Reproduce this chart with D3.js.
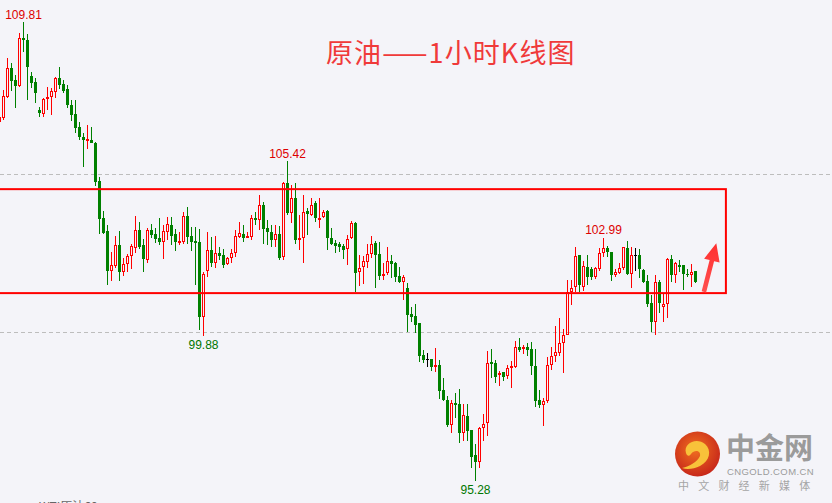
<!DOCTYPE html>
<html><head><meta charset="utf-8">
<script src="https://cdn.jsdelivr.net/npm/d3@7/dist/d3.min.js"></script>
<style>
html,body{margin:0;padding:0;background:#f4f4f9;overflow:hidden}
svg{display:block}
</style></head>
<body><svg id="c" width="832" height="503"></svg>
<script>
// ---- data (1-hour bars, WTI crude) ----
const open = [
106.66,
106.79,107.45,108.35,107.98,107.80,109.30,109.25,108.11,107.92,107.03,
106.91,107.37,107.44,107.61,108.05,107.85,107.69,107.19,106.91,106.50,
106.19,106.07,106.08,105.99,104.79,103.61,103.20,101.95,102.10,102.76,
101.92,102.15,102.43,102.68,103.23,102.76,102.29,103.23,103.11,102.99,
102.86,103.18,103.39,103.11,102.83,102.86,103.68,103.05,102.89,102.87,
100.49,101.95,102.60,102.18,102.50,102.45,102.16,102.34,102.52,103.02,
103.11,102.99,103.02,103.61,103.55,104.03,103.29,103.18,102.92,103.10,
102.39,104.71,103.76,104.24,102.91,102.97,103.84,103.71,104.08,103.57,
103.64,103.84,103.00,102.83,102.79,102.74,102.63,102.97,103.47,101.92,
102.06,102.23,102.47,102.83,102.48,101.78,101.87,102.26,102.18,101.77,
101.60,101.39,100.58,100.52,100.30,99.28,99.14,99.14,98.89,98.97,
98.17,97.86,97.06,97.77,97.73,96.82,97.35,96.91,96.12,95.90,
96.96,97.12,99.06,99.02,98.65,98.74,98.62,98.86,98.89,99.52,
99.46,99.52,99.46,98.93,97.86,97.70,97.82,98.96,99.25,99.35,
99.65,99.93,101.28,101.44,102.44,101.44,102.08,101.99,101.74,101.99,
102.50,102.66,102.55,101.81,101.88,102.02,102.66,101.84,102.44,102.44,
101.97,101.62,100.94,100.33,101.60,100.79,100.89,102.31,101.81,102.13,
102.13,101.86,101.81,101.94];
const high = [
106.90,
107.67,108.67,108.51,108.14,109.46,109.81,109.43,108.25,108.04,107.12,
107.40,107.75,107.72,108.09,108.40,107.98,107.82,107.35,107.35,106.66,
106.32,106.56,106.50,106.03,104.92,103.85,103.41,102.55,103.05,103.20,
102.34,102.48,102.81,103.68,103.50,102.94,103.29,103.42,103.29,103.61,
103.40,103.64,103.64,103.26,103.18,103.81,103.97,103.34,103.32,103.26,
101.92,103.18,103.03,103.05,102.71,102.63,102.39,102.63,103.24,103.50,
103.39,103.18,103.71,103.81,104.34,104.13,103.55,103.39,103.39,103.36,
104.76,105.42,104.66,104.71,103.71,104.34,103.92,104.24,104.16,104.24,
103.87,103.87,103.29,102.92,102.87,102.81,103.08,103.52,103.50,102.44,
102.41,102.79,103.05,102.90,102.87,102.18,102.71,102.44,102.23,102.06,
101.81,101.57,100.81,100.89,100.30,99.44,99.33,99.17,99.49,99.13,
98.54,97.98,97.86,98.07,98.19,97.73,97.73,96.91,96.47,97.01,
97.43,99.41,99.46,99.13,98.78,98.74,98.96,99.10,99.72,99.81,
99.60,99.65,99.70,99.48,98.17,97.91,99.23,99.54,100.19,100.44,
100.12,101.65,101.65,102.71,102.44,102.26,102.44,102.07,102.07,102.66,
102.99,102.73,102.55,101.99,102.20,102.71,102.90,102.71,102.66,102.63,
101.99,101.81,101.18,101.81,101.65,101.23,102.34,102.44,102.23,102.28,
102.13,101.99,102.15,101.94];
const low = [
106.60,
106.72,107.40,107.64,107.10,107.77,108.88,107.35,107.74,107.26,106.80,
106.82,107.03,106.88,107.42,107.69,107.58,107.09,106.69,106.30,106.08,
105.22,105.81,105.98,104.64,103.10,103.10,101.49,101.63,102.02,101.63,
101.79,101.92,101.99,102.52,102.63,101.91,102.20,102.99,102.82,102.76,
102.31,102.92,102.76,102.57,102.76,102.78,102.81,102.58,101.49,100.07,
99.88,101.76,102.08,102.02,102.29,102.02,102.13,102.20,102.39,102.97,
102.87,102.97,102.92,103.39,103.24,102.81,102.76,102.71,102.71,102.29,
102.29,103.71,103.45,102.81,102.60,102.20,103.08,103.68,103.50,103.29,
103.61,102.60,102.76,102.52,102.55,102.31,102.13,102.94,101.26,101.46,
101.53,102.02,102.34,101.39,101.65,101.65,101.81,101.71,101.60,101.55,
101.02,100.02,100.33,99.99,99.07,99.02,98.91,98.78,98.74,97.88,
97.83,97.01,96.82,97.28,96.50,96.57,96.57,95.69,95.28,95.72,
96.57,96.72,98.54,98.40,98.30,98.47,98.51,98.23,98.86,99.38,
99.31,99.25,98.65,97.64,97.62,97.03,97.75,98.80,99.07,99.25,
98.70,99.91,100.86,101.28,101.28,101.31,101.49,101.65,101.68,101.95,
102.39,102.39,101.62,101.74,101.84,101.97,101.81,101.39,101.95,101.71,
101.55,100.79,100.02,99.90,100.60,100.33,100.44,101.60,101.57,101.92,
101.34,101.74,101.44,101.55];
const close = [
106.82,
107.49,108.35,107.96,107.80,109.30,109.25,108.40,107.90,107.58,106.93,
107.38,107.44,107.63,108.05,107.84,107.64,107.19,106.88,106.47,106.17,
106.07,106.11,105.99,104.76,103.59,103.15,101.95,102.13,102.76,101.92,
102.16,102.41,102.72,103.23,102.71,102.32,103.23,103.08,102.95,102.86,
103.21,103.43,103.05,102.86,102.89,103.68,103.02,102.87,102.83,100.47,
101.83,102.60,102.18,102.50,102.41,102.13,102.34,102.50,103.05,103.13,
103.00,103.05,103.61,103.55,104.03,103.26,103.18,102.92,103.10,102.34,
104.73,103.76,104.24,102.92,103.00,103.81,103.73,104.03,103.61,103.62,
103.82,103.00,102.81,102.74,102.71,102.60,102.94,103.45,101.88,102.05,
102.26,102.48,102.81,102.44,101.78,101.86,102.25,102.16,101.74,101.58,
101.76,100.55,100.49,100.23,99.25,99.12,99.14,98.89,98.97,98.15,
97.86,97.06,97.75,97.69,96.82,97.38,96.88,96.06,95.90,96.96,
97.11,99.02,99.01,98.59,98.72,98.59,98.86,98.93,99.52,99.44,
99.52,99.44,98.93,97.83,97.70,97.83,98.96,99.25,99.37,99.67,
99.93,101.28,101.41,102.41,101.49,102.10,101.76,101.74,102.02,102.50,
102.66,102.53,101.81,101.92,102.02,102.69,101.84,102.44,102.44,101.99,
101.60,100.89,100.33,101.60,100.92,100.89,102.31,101.81,102.18,102.07,
101.86,101.81,101.91,101.60];
const categories = d3.range(-1, open.length - 1);   // bar index (hours)
const gridLevels = [100, 105];
const boxLevels = [104.53, 101.24];
const highLabels = [{i:5, text:"109.81"}, {i:71, text:"105.42"}, {i:150, text:"102.99"}];
const lowLabels  = [{i:50, text:"99.88"}, {i:118, text:"95.28"}];
const title = "原油——1小时K线图";

// ---- scales ----
const W = 832, H = 503;
const svg = d3.select("#c");
const y = d3.scaleLinear().domain([95, 110]).range([490.3, 16.3]);
const x = d3.scaleLinear().domain([-1, 173]).range([-0.5, 695.5]);

svg.append("rect").attr("width", W).attr("height", H).attr("fill", "#f4f4f9");

// grid
svg.selectAll("line.grid").data(gridLevels).join("line")
  .attr("x1", 0).attr("x2", W)
  .attr("y1", d => Math.round(y(d)) + 0.5).attr("y2", d => Math.round(y(d)) + 0.5)
  .attr("stroke", "#bdbdbd").attr("stroke-dasharray", "4,3");

// candles
const bars = categories.map((c, j) => ({i: c, o: open[j], h: high[j], l: low[j], c: close[j]}));
const g = svg.append("g").attr("shape-rendering", "crispEdges");
const UP = "#ff0000", DN = "#008000", DJ = "#000000";
bars.forEach(b => {
  const cx = Math.round(x(b.i) - 0.5) + 0.5;
  const yh = Math.round(y(b.h)), yl = Math.round(y(b.l));
  const yo = Math.round(y(b.o)), yc = Math.round(y(b.c));
  const top = Math.min(yo, yc), bot = Math.max(yo, yc);
  if (b.c > b.o) {
    g.append("line").attr("x1", cx).attr("x2", cx).attr("y1", yh).attr("y2", top).attr("stroke", UP);
    g.append("line").attr("x1", cx).attr("x2", cx).attr("y1", bot).attr("y2", yl).attr("stroke", UP);
    g.append("rect").attr("x", cx - 1).attr("y", top + 0.5).attr("width", 2)
      .attr("height", Math.max(1, bot - top - 1)).attr("fill", "none").attr("stroke", UP);
  } else if (b.c < b.o) {
    g.append("line").attr("x1", cx).attr("x2", cx).attr("y1", yh).attr("y2", yl).attr("stroke", DN);
    g.append("rect").attr("x", cx - 1.5).attr("y", top).attr("width", 3)
      .attr("height", Math.max(1, bot - top)).attr("fill", DN);
  } else {
    g.append("line").attr("x1", cx).attr("x2", cx).attr("y1", yh).attr("y2", yl).attr("stroke", DJ);
    g.append("line").attr("x1", cx - 1.5).attr("x2", cx + 1.5).attr("y1", yo + 0.5).attr("y2", yo + 0.5).attr("stroke", DJ);
  }
});

// box
svg.append("rect")
  .attr("x", -2).attr("y", y(boxLevels[0]))
  .attr("width", x(180.6) + 2).attr("height", y(boxLevels[1]) - y(boxLevels[0]))
  .attr("fill", "none").attr("stroke", "#ff0000").attr("stroke-width", 2);

// labels
const numFont = "'Liberation Sans', Arial, sans-serif";
svg.selectAll("text.hl").data(highLabels).join("text")
  .attr("x", d => x(d.i)).attr("y", d => y(high[d.i + 1]) - 3.5)
  .attr("text-anchor", "middle").attr("font-family", numFont).attr("font-size", 12)
  .attr("fill", "#dd0000").text(d => d.text);
svg.selectAll("text.ll").data(lowLabels).join("text")
  .attr("x", d => x(d.i)).attr("y", d => y(low[d.i + 1]) + 13)
  .attr("text-anchor", "middle").attr("font-family", numFont).attr("font-size", 12)
  .attr("fill", "#007700").text(d => d.text);

// arrow
const ax0 = x(175.1), ay0 = y(101.28), ax1 = x(178.2), ay1 = y(102.82);
const ang = Math.atan2(ay1 - ay0, ax1 - ax0);
const ux = Math.cos(ang), uy = Math.sin(ang), px = -uy, py = ux;
const headL = 18, headW = 8, shaftW = 2.3;
const bx = ax1 - ux * headL, by = ay1 - uy * headL;
const pts = [
  [ax0 + px * shaftW, ay0 + py * shaftW],
  [bx + px * shaftW, by + py * shaftW],
  [bx + px * headW, by + py * headW],
  [ax1, ay1],
  [bx - px * headW, by - py * headW],
  [bx - px * shaftW, by - py * shaftW],
  [ax0 - px * shaftW, ay0 - py * shaftW]];
const defs = svg.append("defs");
const ag = defs.append("linearGradient").attr("id", "ag").attr("x1", 0).attr("y1", 1).attr("x2", 0).attr("y2", 0);
ag.append("stop").attr("offset", 0).attr("stop-color", "#ff5050");
ag.append("stop").attr("offset", 1).attr("stop-color", "#ff3030");
svg.append("polygon").attr("points", pts.map(p => p.join(",")).join(" ")).attr("fill", "url(#ag)");

// title
svg.append("text").attr("x", 326).attr("y", 63)
  .attr("font-family", "'Noto Sans CJK SC', 'Noto Sans', sans-serif").attr("font-size", 27)
  .attr("letter-spacing", 1.1)
  .attr("fill", "#f03a3a").text(title);

// logo
const lg = defs.append("radialGradient").attr("id", "lg").attr("cx", "45%").attr("cy", "40%").attr("r", "60%");
lg.append("stop").attr("offset", 0).attr("stop-color", "#f07020");
lg.append("stop").attr("offset", 1).attr("stop-color", "#c8281a");
svg.append("circle").attr("cx", 697.5).attr("cy", 454).attr("r", 22.5).attr("fill", "url(#lg)");
svg.append("path")
  .attr("d", "M686 453 C683 443 697 437 705 444 C712 450 710 461 700 466 C694 469 687 470 682 468 C690 466 697 462 700 456 C701 451 695 449 691 454 C689 457 687 456 686 453 Z")
  .attr("fill", "#f8c23a");
svg.append("text").attr("x", 726).attr("y", 459)
  .attr("font-family", "'Noto Sans CJK SC', sans-serif").attr("font-size", 29).attr("font-weight", "bold")
  .attr("fill", "#9b9b9b").text("中金网");
svg.append("text").attr("x", 727).attr("y", 475)
  .attr("font-family", numFont).attr("font-size", 9.5).attr("letter-spacing", 0.4)
  .attr("fill", "#9b9b9b").text("CNGOLD.COM.CN");
svg.append("text").attr("x", 678).attr("y", 490)
  .attr("font-family", "'Noto Sans CJK SC', sans-serif").attr("font-size", 11).attr("letter-spacing", 9.2)
  .attr("fill", "#a5a5a5").text("中文财经新媒体");

// bottom caption (cut by frame, as in the source image)
svg.append("text").attr("x", 39).attr("y", 511)
  .attr("font-family", "'Noto Sans CJK SC', sans-serif").attr("font-size", 12)
  .attr("fill", "#666").text("WTI原油60");
</script></body></html>
